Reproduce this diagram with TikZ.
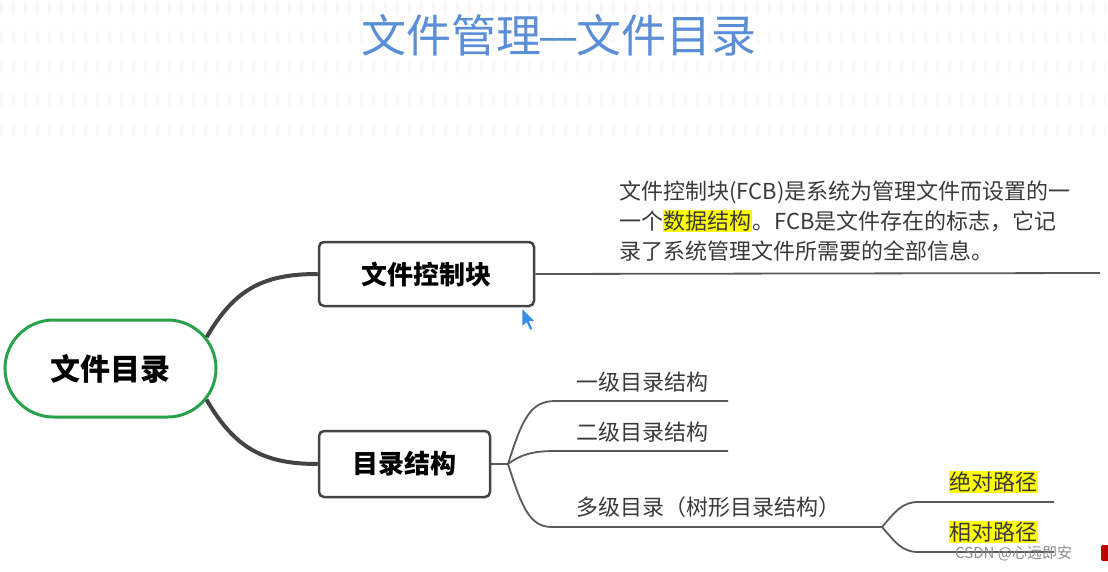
\documentclass[tikz,border=0pt]{standalone}
\usepackage{fontspec}
\setmainfont{Noto Sans CJK SC}
\usetikzlibrary{shapes.misc}
\definecolor{titleblue}{HTML}{5A8ED6}
\definecolor{rootgreen}{HTML}{27A24A}
\definecolor{darkline}{HTML}{444444}
\definecolor{thinline}{HTML}{5A5A5A}
\definecolor{textgray}{HTML}{3A3A3A}
\definecolor{hl}{HTML}{FFFF00}
\definecolor{cursorblue}{HTML}{3A8EE6}
\newcommand\hlt[1]{{\setlength{\fboxsep}{0.5pt}\colorbox{hl}{#1}}}
\begin{document}
\begin{tikzpicture}[x=1pt,y=-1pt,
  rootnode/.style={rounded rectangle, draw=rootgreen, line width=3pt, minimum width=211pt, minimum height=97pt, inner sep=0pt, font=\fontsize{30}{34}\selectfont\bfseries, text=black},
  boxnode/.style={rectangle, rounded corners=5pt, draw=darkline, line width=2.5pt, minimum height=64pt, inner sep=0pt, font=\fontsize{26}{30}\selectfont\bfseries, text=black},
  mainconn/.style={draw=darkline, line width=4pt},
  subconn/.style={draw=thinline, line width=1.8pt},
  itemtext/.style={anchor=west, inner sep=0pt, font=\fontsize{22}{26}\selectfont, text=textgray},
  texture/.style={black!2.5, line width=12pt, dash pattern=on 3pt off 9pt}
]
\fill[white] (0,0) rectangle (1108,572);
\useasboundingbox (0,0) rectangle (1108,572);
% faint background texture
\foreach \yy in {8,37,67,100,130}
  \draw[texture] (0,\yy) -- (1108,\yy);

% title
\node[font=\fontsize{45}{50}\selectfont, text=titleblue, inner sep=0pt] (title) at (559,35) {文件管理\kern-0.05em—\kern-0.05em文件目录};

% nodes
\node[rootnode] (root) at (110.5,368.5) {文件目录};
\node[boxnode, minimum width=215pt] (fcb) at (426.5,274) {文件控制块};
\node[boxnode, minimum width=171pt, minimum height=66pt] (dir) at (404.5,464) {目录结构};

% main connectors
\draw[mainconn] (root.18) .. controls +(28,-48) and +(-55,0) .. (fcb.west);
\draw[mainconn] (root.-18) .. controls +(28,48) and +(-55,0) .. (dir.west);

% FCB description
\coordinate (fcbend) at (1100,273);
\draw[subconn] (fcb.east) -- (fcbend);
\node[anchor=west, align=left, inner sep=0pt, font=\fontsize{22}{30}\selectfont, text=textgray] (fcbtext) at (619,221)
  {文件控制块(FCB)是系统为管理文件而设置的一\\一个\hlt{数据结构}。FCB是文件存在的标志，它记\\录了系统管理文件所需要的全部信息。};

% directory structure branches
\coordinate (b0) at (508,464);
\coordinate (l1s) at (555,401); \coordinate (l1e) at (728,401);
\coordinate (l2s) at (555,451); \coordinate (l2e) at (728,451);
\coordinate (l3s) at (552,527); \coordinate (b1) at (882,527);
\coordinate (l4s) at (918,502); \coordinate (l4e) at (1054,502);
\coordinate (l5s) at (918,552); \coordinate (l5e) at (1054,552);
\draw[subconn] (dir.east) -- (b0);
\draw[subconn] (b0) .. controls (522,420) and (530,401) .. (l1s) -- (l1e);
\draw[subconn] (b0) .. controls (520,455) and (532,451) .. (l2s) -- (l2e);
\draw[subconn] (b0) .. controls (522,508) and (530,527) .. (l3s) -- (b1);
\draw[subconn] (b1) .. controls (895,512) and (902,502) .. (l4s) -- (l4e);
\draw[subconn] (b1) .. controls (895,542) and (902,552) .. (l5s) -- (l5e);

\node[itemtext] (t1) at (576,382) {一级目录结构};
\node[itemtext] (t2) at (576,432) {二级目录结构};
\node[itemtext] (t3) at (576,507) {多级目录（树形目录结构）};
\node[itemtext] (t4) at (949,482) {\hlt{绝对路径}};
\node[itemtext] (t5) at (949,532) {\hlt{相对路径}};

% mouse cursor
\draw[white, line width=0.8pt, fill=cursorblue, line join=round]
  (522,308) -- (522,327) -- (526.5,323) -- (530,330.5) -- (533,329) -- (529.5,321.5) -- (535.5,321.5) -- cycle;

% watermark
\node[anchor=west, inner sep=0pt, font=\fontsize{15}{18}\selectfont, text=black!45] (wm) at (955,553) {CSDN @心远即安};
\fill[red!75!black, rounded corners=2pt] (1101,545) rectangle (1112,561);
\end{tikzpicture}
\end{document}
